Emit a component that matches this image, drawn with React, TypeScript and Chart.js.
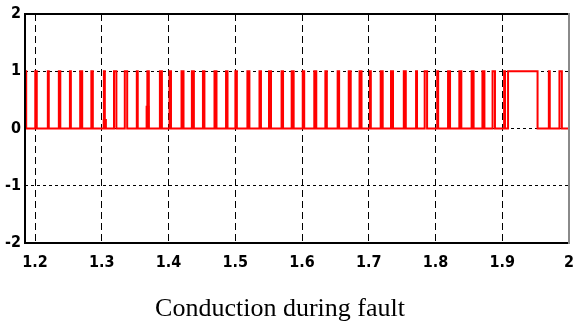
import React, { useEffect, useRef } from "react";
import { Chart, registerables } from "chart.js";

Chart.register(...registerables);

const xMin = 1.185;
const xMax = 2.0;
const xTickValues = [1.2, 1.3, 1.4, 1.5, 1.6, 1.7, 1.8, 1.9, 2.0];
const xTickLabels = ["1.2", "1.3", "1.4", "1.5", "1.6", "1.7", "1.8", "1.9", "2"];
const yTickValues = [-2, -1, 0, 1, 2];
const yTickLabels = ["-2", "-1", "0", "1", "2"];

// gate pulse rising / falling times (s)
const pulseOn = [
  1.1853, 1.2004, 1.2192, 1.2357, 1.2523, 1.2677, 1.2844, 1.3032, 1.3183, 1.3345,
  1.3525, 1.3683, 1.3871, 1.4015, 1.4195, 1.435, 1.4516, 1.4689, 1.4862, 1.5002,
  1.5182, 1.5363, 1.5506, 1.5694, 1.5845, 1.6011, 1.6184, 1.635, 1.6534, 1.67,
  1.6862, 1.7017, 1.7179, 1.7333, 1.7525, 1.7709, 1.7838, 1.8026, 1.8188, 1.8357,
  1.8541, 1.8703, 1.8855, 1.9028, 1.9087, 1.9698, 1.9857,
];
const pulseOff = [
  1.1868, 1.2026, 1.2206, 1.2379, 1.2537, 1.2707, 1.2866, 1.3046, 1.3219, 1.3381,
  1.3539, 1.3705, 1.3901, 1.4037, 1.4225, 1.438, 1.4538, 1.4719, 1.4884, 1.5024,
  1.5212, 1.5385, 1.5536, 1.5716, 1.5875, 1.6033, 1.6214, 1.6372, 1.6556, 1.673,
  1.6892, 1.7031, 1.7209, 1.7363, 1.7555, 1.7723, 1.7874, 1.804, 1.8218, 1.8387,
  1.8571, 1.8733, 1.8891, 1.9042, 1.9529, 1.9712, 1.9893,
];
// small partial-height steps
const stepOn = [1.303, 1.3672];
const stepOff = [1.3062, 1.37];
const stepLevel = [0.15, 0.38];

const caption = "Conduction during fault";

const tickFont = {
  family: '"Liberation Sans Narrow", "DejaVu Sans Condensed", "Arial Narrow", "Liberation Sans", sans-serif',
  size: 16,
  weight: "bold" as const,
};

const framePlugin = {
  id: "frame",
  afterDatasetsDraw(chart: any) {
    const { ctx, chartArea } = chart;
    const { left, right, top, bottom } = chartArea;
    ctx.save();
    ctx.lineWidth = 2;
    ctx.strokeStyle = "#000";
    ctx.beginPath();
    ctx.moveTo(right, top);
    ctx.lineTo(left, top);
    ctx.lineTo(left, bottom);
    ctx.lineTo(right, bottom);
    ctx.stroke();
    ctx.strokeStyle = "#8a8a8a";
    ctx.beginPath();
    ctx.moveTo(right, top - 1);
    ctx.lineTo(right, bottom + 1);
    ctx.stroke();
    ctx.restore();
  },
};

export default function App() {
  const ref = useRef<HTMLCanvasElement | null>(null);

  useEffect(() => {
    if (!ref.current) return;
    const pts: { x: number; y: number }[] = [{ x: xMin, y: 0 }];
    pulseOn.forEach((on, i) => {
      pts.push({ x: on, y: 0 }, { x: on, y: 1 }, { x: pulseOff[i], y: 1 }, { x: pulseOff[i], y: 0 });
    });
    pts.push({ x: xMax, y: 0 });
    const stepPts: { x: number; y: number | null }[] = [];
    stepOn.forEach((on, i) => {
      stepPts.push({ x: on, y: 0 }, { x: on, y: stepLevel[i] }, { x: stepOff[i], y: stepLevel[i] }, { x: stepOff[i], y: 0 }, { x: stepOff[i], y: null });
    });

    const chart = new Chart(ref.current, {
      type: "line",
      data: {
        datasets: [
          {
            data: pts,
            borderColor: "#ff0000",
            borderWidth: 2,
            pointRadius: 0,
            tension: 0,
            fill: false,
          },
          {
            data: stepPts as any,
            borderColor: "#ff0000",
            backgroundColor: "#ff0000",
            borderWidth: 2,
            pointRadius: 0,
            tension: 0,
            fill: false,
            spanGaps: false,
          },
        ],
      },
      options: {
        responsive: false,
        animation: false,
        devicePixelRatio: 1,
        layout: { padding: { top: 14, right: 4, left: 0, bottom: 0 } },
        plugins: { legend: { display: false }, tooltip: { enabled: false }, title: { display: false } },
        scales: {
          x: {
            type: "linear",
            min: xMin,
            max: xMax,
            afterBuildTicks: (s: any) => {
              s.ticks = xTickValues.map((v) => ({ value: v }));
            },
            afterFit: (s: any) => {
              s.height = 80;
            },
            ticks: {
              callback: (_v: any, i: number) => xTickLabels[i],
              font: tickFont,
              color: "#000",
              padding: 10,
              maxRotation: 0,
              autoSkip: false,
            },
            grid: { color: "#000", lineWidth: 1, drawTicks: false },
            border: { display: false, dash: [7, 4] },
          },
          y: {
            type: "linear",
            min: -2,
            max: 2,
            afterBuildTicks: (s: any) => {
              s.ticks = yTickValues.map((v) => ({ value: v }));
            },
            afterFit: (s: any) => {
              s.width = 25;
            },
            ticks: {
              callback: (_v: any, i: number) => yTickLabels[i],
              font: tickFont,
              color: "#000",
              padding: 4,
            },
            grid: { color: "#000", lineWidth: 1, drawTicks: false },
            border: { display: false, dash: [3, 3] },
          },
        },
      },
      plugins: [framePlugin],
    });
    return () => chart.destroy();
  }, []);

  return (
    <div style={{ position: "fixed", left: 0, top: 0, width: 584, height: 323, background: "#fff" }}>
      <canvas ref={ref} width={584} height={323} style={{ display: "block", width: 584, height: 323 }} />
      <div
        style={{
          position: "absolute",
          left: 0,
          top: 295,
          width: 560,
          textAlign: "center",
          fontFamily: '"Liberation Serif", "Times New Roman", serif',
          fontSize: 26,
          lineHeight: "26px",
          color: "#000",
        }}
      >
        {caption}
      </div>
    </div>
  );
}
